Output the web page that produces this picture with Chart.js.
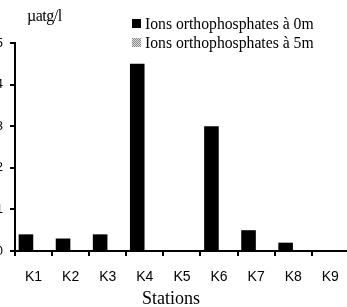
<!DOCTYPE html>
<html lang="fr">
<head>
  <meta charset="UTF-8">
  <title>Ions orthophosphates</title>
  <script src="https://cdn.jsdelivr.net/npm/chart.js"></script>
  <style>
    body {
      margin: 0;
      background: #fff;
      width: 347px;
      height: 307px;
      overflow: hidden;
      position: relative;
    }

    #wrap {
      position: absolute;
      left: -20px;
      top: 0;
      width: 372px;
      height: 307px;
    }

    .txt {
      position: absolute;
      font-family: "Liberation Serif", "Times New Roman", serif;
      color: #000;
      line-height: 1;
      white-space: nowrap;
    }

    .unit { left: 27px; top: 8px; font-size: 16px; letter-spacing: -0.5px; }
    .leg { left: 145px; font-size: 15.7px; }
    .xtitle { left: 142px; top: 289px; font-size: 18px; }

    .box {
      position: absolute;
      width: 9px;
      height: 9px;
    }
  </style>
</head>
<body>

  <div id="wrap"><canvas id="chart" width="372" height="307"></canvas></div>

  <div class="txt unit">µatg/l</div>

  <div class="box" id="box0" style="left:132px; top:19px; background:#000;"></div>
  <div class="txt leg" style="top:16px;">Ions orthophosphates à 0m</div>
  <div class="box" id="box5" style="left:132px; top:38px;"></div>
  <div class="txt leg" style="top:35px;">Ions orthophosphates à 5m</div>

  <div class="txt xtitle">Stations</div>

  <script>
  // données
  const stations = ["K1", "K2", "K3", "K4", "K5", "K6", "K7", "K8", "K9"];
  const surface0m = [0.4, 0.3, 0.4, 4.5, 0, 3.0, 0.5, 0.2, 0];
  const fond5m = [0, 0, 0, 0, 0, 0, 0, 0, 0];
  const yTicks = [0, 1, 2, 3, 4, 5];

  // petit motif gris pointillé pour la série à 5m
  const pat = document.createElement("canvas");
  pat.width = 2;
  pat.height = 2;
  const pctx = pat.getContext("2d");
  pctx.fillStyle = "#ddd";
  pctx.fillRect(0, 0, 2, 2);
  pctx.fillStyle = "#888";
  pctx.fillRect(0, 0, 1, 1);
  pctx.fillRect(1, 1, 1, 1);
  document.getElementById("box5").style.background = "url(" + pat.toDataURL() + ")";

  const ctx = document.getElementById("chart").getContext("2d");
  const dotted = ctx.createPattern(pat, "repeat");

  const sans = "'Liberation Sans', Arial, sans-serif";

  new Chart(ctx, {
    type: "bar",
    data: {
      labels: stations,
      datasets: [
        {
          label: "Ions orthophosphates à 0m",
          data: surface0m,
          backgroundColor: "#000",
          categoryPercentage: 0.82,
          barPercentage: 0.96
        },
        {
          label: "Ions orthophosphates à 5m",
          data: fond5m,
          backgroundColor: dotted,
          categoryPercentage: 0.82,
          barPercentage: 0.96
        }
      ]
    },
    options: {
      responsive: false,
      animation: false,
      layout: { padding: { top: 43, right: 2, bottom: 0, left: 0 } },
      plugins: {
        legend: { display: false },
        tooltip: { enabled: false }
      },
      scales: {
        x: {
          grid: {
            offset: true,
            drawOnChartArea: false,
            drawTicks: true,
            tickLength: 5,
            color: "#000",
            lineWidth: 2
          },
          border: { display: true, color: "#000", width: 2 },
          ticks: {
            color: "#000",
            padding: 13,
            font: { family: sans, size: 14 }
          },
          afterFit: function (scale) { scale.height = 56; }
        },
        y: {
          min: 0,
          max: 5,
          afterBuildTicks: function (scale) {
            scale.ticks = yTicks.map(v => ({ value: v }));
          },
          grid: {
            drawOnChartArea: false,
            drawTicks: true,
            tickLength: 5,
            color: "#000",
            lineWidth: 2
          },
          border: { display: true, color: "#000", width: 2 },
          ticks: {
            color: "#000",
            padding: 7,
            font: { family: sans, size: 13 }
          },
          afterFit: function (scale) { scale.width = 35; }
        }
      }
    }
  });
</script>
</body>
</html>
